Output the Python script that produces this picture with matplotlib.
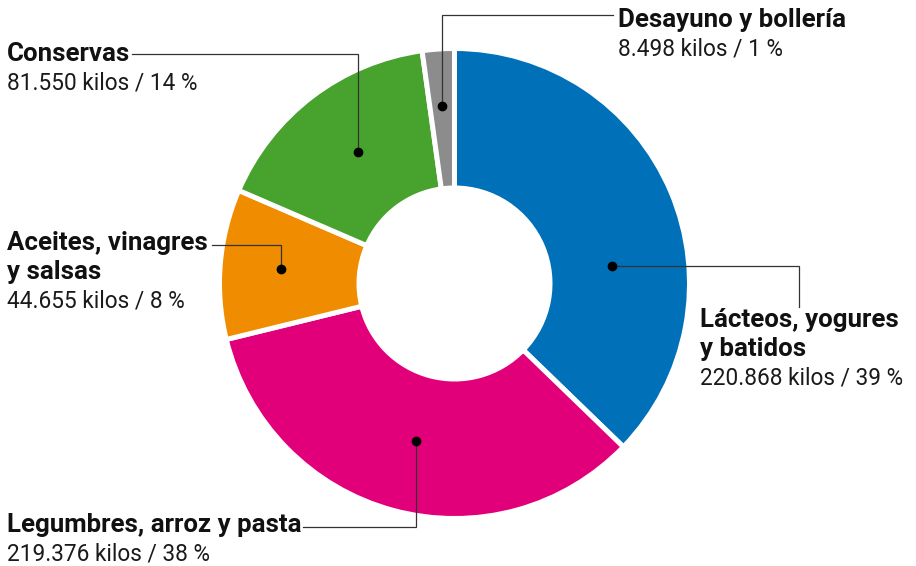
import numpy as np
import matplotlib
matplotlib.use("Agg")
from matplotlib import pyplot as plt

# data
names = [["Lácteos, yogures", "y batidos"], ["Legumbres, arroz y pasta"],
         ["Aceites, vinagres", "y salsas"], ["Conservas"], ["Desayuno y bollería"]]
kilos = ["220.868", "219.376", "44.655", "81.550", "8.498"]
pct_label = [39, 38, 8, 14, 1]
# share of the ring as drawn in the picture (%)
shares = [37.2, 33.9, 10.3, 16.3, 2.2]
colors = ["#0070b8", "#e2007a", "#f08c00", "#48a22e", "#8c8c8c"]

plt.rcParams['font.family'] = ['Roboto', 'DejaVu Sans']

fig = plt.figure(figsize=(9.16, 5.66), dpi=100)
ax = fig.add_axes([0, 0, 1, 1])

cx, cy = 454.5, 283.5
R = 235
wedges, _ = ax.pie(shares, colors=colors, startangle=-90, counterclock=True,
                   center=(cx, cy), radius=R, frame=True,
                   wedgeprops=dict(width=139.5, edgecolor="white", linewidth=3.6))
ax.set_xlim(0, 916)
ax.set_ylim(566, 0)
ax.set_aspect("equal")
ax.axis("off")

# label layout: text x, baseline of first line, leader style
layout = [
    dict(tx=700, ty=327, frac=0.624, rf=0.675, kind="h", elbow=799, end=307),
    dict(tx=7, ty=532, frac=0.49, rf=0.69, kind="v", line_y=526.5, end=303),
    dict(tx=7, ty=250, frac=0.5, rf=0.74, kind="v", line_y=245, end=212),
    dict(tx=7, ty=61, frac=0.52, rf=0.695, kind="v", line_y=53.5, end=132),
    dict(tx=618, ty=27, frac=0.5, rf=0.755, kind="v", line_y=14.5, end=613),
]
lh = 28.7
for w, nm, kg, p, L in zip(wedges, names, kilos, pct_label, layout):
    th = np.radians(w.theta1 + L["frac"] * (w.theta2 - w.theta1))
    r = L["rf"] * R
    dx, dy = cx + r * np.cos(th), cy + r * np.sin(th)
    if L["kind"] == "h":
        xs = [dx, L["elbow"], L["elbow"]]
        ys = [dy, dy, L["end"]]
    else:
        xs = [dx, dx, L["end"]]
        ys = [dy, L["line_y"], L["line_y"]]
    ax.plot(xs, ys, color="#333333", lw=0.9, solid_joinstyle="miter")
    ax.plot(dx, dy, "o", color="black", ms=6)
    for i, line in enumerate(nm):
        ax.text(L["tx"], L["ty"] + i * lh, line, fontsize=18.6, fontweight="bold",
                va="baseline", ha="left", color="#111111")
    ax.text(L["tx"], L["ty"] + len(nm) * lh, f"{kg} kilos / {p} %", fontsize=16.3,
            fontweight="normal", va="baseline", ha="left", color="#1a1a1a")

fig.savefig("out.png", dpi=100)
